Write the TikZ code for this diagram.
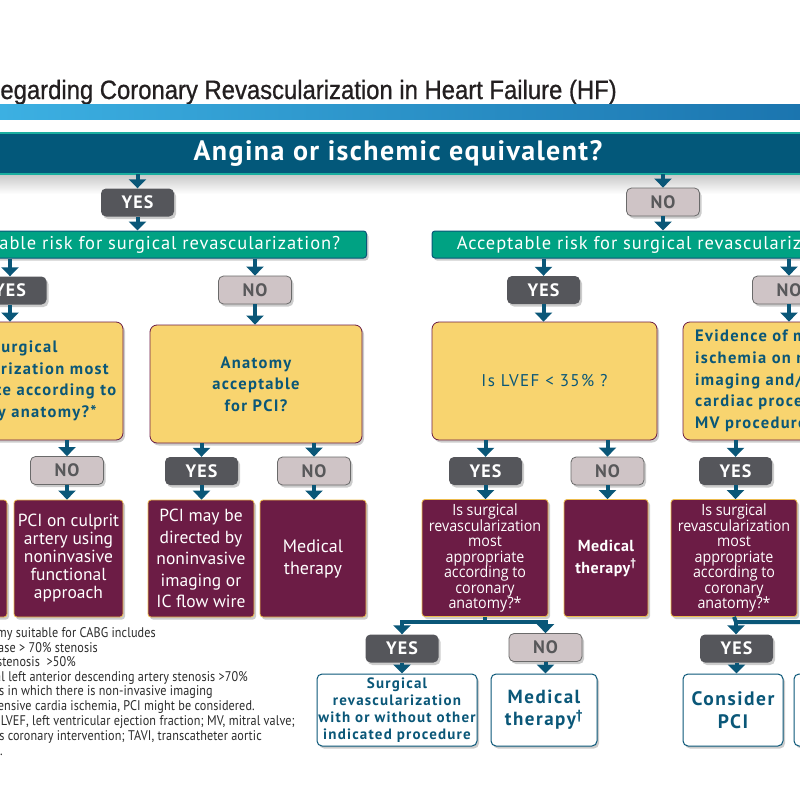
\documentclass[tikz,border=0pt]{standalone}
\usepackage{fontspec}
\usetikzlibrary{arrows.meta,shadows}
\definecolor{navy}{HTML}{0A5778}
\definecolor{bannerc}{HTML}{03587A}
\definecolor{tealc}{HTML}{1AAE9F}
\definecolor{greenc}{HTML}{00A283}
\definecolor{yesc}{HTML}{55565B}
\definecolor{noc}{HTML}{CFC4C6}
\definecolor{nodraw}{HTML}{6A6A6A}
\definecolor{notext}{HTML}{58585A}
\definecolor{yelc}{HTML}{F8D46F}
\definecolor{maroonc}{HTML}{6C1C45}
\definecolor{goldc}{HTML}{EDBB4C}
\definecolor{barL}{HTML}{3CB0E2}
\definecolor{barR}{HTML}{1B75AF}
\definecolor{titlec}{HTML}{231F20}
\definecolor{notec}{HTML}{2B2B2B}
\newfontfamily\titlefont{Liberation Sans}[FakeStretch=0.9,FakeBold=0.8]
\newfontfamily\bannerfont{PT Sans}[LetterSpace=5]
\newfontfamily\bluefont{PT Sans}[LetterSpace=8]
\newfontfamily\greenfont{PT Sans}[LetterSpace=5]
\newfontfamily\yesfont{PT Sans}[LetterSpace=6]
\newfontfamily\mfont{PT Sans}
\newfontfamily\mbfont{PT Sans}[LetterSpace=3]
\newfontfamily\thinfont{Open Sans}[FakeStretch=0.92]
\newfontfamily\notefont{PT Sans}[LetterSpace=0.8,FakeStretch=0.87]
\begin{document}
\begin{tikzpicture}[x=1pt,y=-1pt,
  myshadow/.style={drop shadow={shadow xshift=2pt,shadow yshift=-2.5pt,opacity=.2,fill=black}},
  bannerbox/.style={fill=bannerc,text=white,minimum width=830pt,minimum height=41pt,inner sep=0pt,
    font=\bannerfont\bfseries\fontsize{28}{28}\selectfont},
  riskbar/.style={fill=greenc,draw=navy,line width=1pt,rounded corners=3pt,text=white,minimum height=27pt,
    inner sep=0pt,font=\greenfont\fontsize{18.5}{18.5}\selectfont,myshadow},
  yesbox/.style={fill=yesc,rounded corners=5pt,text=white,minimum width=73pt,minimum height=28pt,inner sep=0pt,
    font=\yesfont\bfseries\fontsize{18}{18}\selectfont,myshadow},
  nobox/.style={yesbox,fill=noc,draw=nodraw,line width=0.8pt,text=notext},
  yelbox/.style={fill=yelc,draw=maroonc,line width=0.8pt,rounded corners=7pt,minimum height=118pt,inner sep=0pt,
    text=navy,align=center,font=\bluefont\bfseries\fontsize{16.5}{21.5}\selectfont,myshadow},
  marbox/.style={fill=maroonc,draw=goldc,line width=0.8pt,rounded corners=3pt,minimum height=117pt,inner sep=0pt,
    text=white,align=center,font=\mfont\fontsize{17.5}{18}\selectfont,myshadow},
  thinbox/.style={marbox,font=\thinfont\fontsize{15.5}{15.5}\selectfont},
  whitebox/.style={fill=white,draw=navy,line width=1pt,rounded corners=5pt,minimum height=72pt,inner sep=0pt,
    text=navy,align=center,font=\bluefont\bfseries\fontsize{15}{17}\selectfont,myshadow},
  conn/.style={draw=navy,line width=4pt,-{Triangle[width=17pt,length=9pt]}},
  connline/.style={draw=navy,line width=4pt},
  note/.style={anchor=base east,inner sep=0pt,text=notec,font=\notefont\fontsize{14}{14}\selectfont}
]
\useasboundingbox (0,0) rectangle (800,800);
\clip (0,0) rectangle (800,800);
\fill[white] (0,0) rectangle (800,800);

% title and bar
\node[anchor=base east,inner sep=0pt,text=titlec,font=\titlefont\fontsize{26.5}{30}\selectfont] (title) at (617,99)
  {Regarding Coronary Revascularization in Heart Failure (HF)};
\shade[left color=barL,right color=barR] (0,104) rectangle (800,119);

% banner
\shade[top color=black!22,bottom color=white] (0,174) rectangle (800,194);
\node[bannerbox] (banner) at (398,153.5) {Angina or ischemic equivalent?};
\draw[tealc,line width=1.6pt] (banner.north west) -- (banner.north east);
\draw[tealc,line width=1.6pt] (banner.south west) -- (banner.south east);

% first level
\node[yesbox] (yes0) at (137.5,202.5) {YES};
\node[nobox] (no0) at (663,202) {NO};
\node[riskbar,minimum width=451pt] (risk1) at (141,244.5) {Acceptable risk for surgical revascularization?};
\node[riskbar,minimum width=448pt] (risk2) at (656,244.5) {Acceptable risk for surgical revascularization?};

\node[yesbox] (yes1) at (10,290.5) {YES};
\node[nobox] (no1) at (255,290) {NO};
\node[yesbox] (yes2) at (543.5,290) {YES};
\node[nobox] (no2) at (789,290) {NO};

% yellow questions
\node[yelbox,minimum width=224pt] (q1) at (11,381) {};
\node[anchor=center,inner sep=0pt,align=center,text=navy,font=\bluefont\bfseries\fontsize{16.5}{21.5}\selectfont] (q1t) at (16,381)
  {Is surgical\\revascularization most\\appropriate according to\\coronary anatomy?*};
\node[yelbox,minimum width=212pt] (q2) at (256,384) {Anatomy\\acceptable\\for PCI?};
\node[yelbox,minimum width=225pt,font=\bluefont\fontsize{17}{20}\selectfont] (q3) at (544.5,381) {Is LVEF < 35\% ?};
\node[yelbox,minimum width=224pt] (q4) at (795,381) {};
\node[anchor=west,inner sep=0pt,align=left,text=navy,font=\bluefont\bfseries\fontsize{16.5}{21.7}\selectfont] (q4t) at (695,381)
  {Evidence of myocardial\\ischemia on noninvasive\\imaging and/or other\\cardiac procedure (TAVI,\\MV procedure)?};

% second answers
\node[nobox] (no3) at (67,470.5) {NO};
\node[yesbox] (yes3) at (201.5,471) {YES};
\node[nobox] (no4) at (314,471) {NO};
\node[yesbox] (yes4) at (485.5,471) {YES};
\node[nobox] (no5) at (607.5,471) {NO};
\node[yesbox] (yes5) at (735.5,471) {YES};

% maroon boxes
\node[marbox,minimum width=107pt] (m0) at (-46.5,558.5) {};
\node[marbox,minimum width=109pt] (m1) at (68.5,558.5)
  {PCI on culprit\\artery using\\noninvasive\\functional\\approach};
\node[marbox,minimum width=106pt,font=\mfont\fontsize{17.5}{21.5}\selectfont] (m2) at (201,558.5)
  {PCI may be\\directed by\\noninvasive\\imaging or\\IC flow wire};
\node[marbox,minimum width=106pt,font=\mfont\fontsize{18}{22}\selectfont] (m3) at (313,558.5) {Medical\\therapy};
\node[thinbox,minimum width=126pt] (m4) at (485,558)
  {Is surgical\\revascularization\\most\\appropriate\\according to\\coronary\\anatomy?*};
\node[marbox,minimum width=84pt,font=\mbfont\bfseries\fontsize{16}{22}\selectfont] (m5) at (606,558)
  {Medical\\therapy\textsuperscript{\textdagger}};
\node[thinbox,minimum width=126pt] (m6) at (734,558)
  {Is surgical\\revascularization\\most\\appropriate\\according to\\coronary\\anatomy?*};

% third answers
\node[yesbox] (yes6) at (402,648.5) {YES};
\node[nobox] (no6) at (545.5,647.5) {NO};
\node[yesbox] (yes7) at (736.5,648.5) {YES};

% white outcome boxes
\node[whitebox,minimum width=160pt] (w1) at (397,710)
  {Surgical\\revascularization\\with or without other\\indicated procedure};
\node[whitebox,minimum width=106pt,font=\bluefont\bfseries\fontsize{19}{22}\selectfont] (w2) at (544,710)
  {Medical\\therapy\textsuperscript{\textdagger}};
\node[whitebox,minimum width=100pt,font=\bluefont\bfseries\fontsize{19.5}{23}\selectfont] (w3) at (733,710)
  {Consider\\PCI};
\node[whitebox,minimum width=106pt] (w4) at (847,710) {};

% connectors
\draw[conn] (yes0 |- banner.south) -- (yes0.north);
\draw[conn] (no0 |- banner.south) -- (no0.north);
\draw[conn] (yes0.south) -- (yes0 |- risk1.north);
\draw[conn] (no0.south) -- (no0 |- risk2.north);
\draw[conn] (yes1 |- risk1.south) -- (yes1.north);
\draw[conn] (no1 |- risk1.south) -- (no1.north);
\draw[conn] (yes2 |- risk2.south) -- (yes2.north);
\draw[conn] (no2 |- risk2.south) -- (no2.north);
\draw[conn] (yes1.south) -- (yes1 |- q1.north);
\draw[conn] (no1.south) -- (no1 |- q2.north);
\draw[conn] (yes2.south) -- (yes2 |- q3.north);
\draw[conn] (no2.south) -- (no2 |- q4.north);
\draw[conn] (no3 |- q1.south) -- (no3.north);
\draw[conn] (yes3 |- q2.south) -- (yes3.north);
\draw[conn] (no4 |- q2.south) -- (no4.north);
\draw[conn] (yes4 |- q3.south) -- (yes4.north);
\draw[conn] (no5 |- q3.south) -- (no5.north);
\draw[conn] (yes5 |- q4.south) -- (yes5.north);
\draw[conn] (no3.south) -- (no3 |- m1.north);
\draw[conn] (yes3.south) -- (yes3 |- m2.north);
\draw[conn] (no4.south) -- (no4 |- m3.north);
\draw[conn] (yes4.south) -- (yes4 |- m4.north);
\draw[conn] (no5.south) -- (no5 |- m5.north);
\draw[conn] (yes5.south) -- (yes5 |- m6.north);

\coordinate (br1) at (485,622);
\coordinate (br2) at (736,622);
\coordinate (offR) at (880,622);
\draw[connline] (m4.south) -- (br1);
\draw[conn] (br1) -| (yes6.north);
\draw[conn] (br1) -| (no6.north);
\draw[connline] (m6.south) -- (br2) -- (offR);
\draw[conn] (br2) -- (br2 |- yes7.north);
\draw[conn] (yes6.south) -- (yes6 |- w1.north);
\draw[conn] (no6.south) -- (no6 |- w2.north);
\draw[conn] (yes7.south) -- (yes7 |- w3.north);

% footnotes
\node[note] (f1) at (156,637) {*Anatomy suitable for CABG includes};
\node[note] (f2) at (98,652) {disease > 70\% stenosis};
\node[note] (f3) at (76,666.5) {stenosis \ >50\%};
\node[note] (f4) at (248,681) {proximal left anterior descending artery stenosis >70\%};
\node[note] (f5) at (213,695.5) {patients in which there is non-invasive imaging};
\node[note] (f6) at (255,710.5) {extensive cardia ischemia, PCI might be considered.};
\node[note] (f7) at (295,725.5) {LVEF, left ventricular ejection fraction; MV, mitral valve;};
\node[note] (f8) at (262,740) {percutaneous coronary intervention; TAVI, transcatheter aortic};
\node[note] (f9) at (3,755) {implantation.};
\end{tikzpicture}
\end{document}
